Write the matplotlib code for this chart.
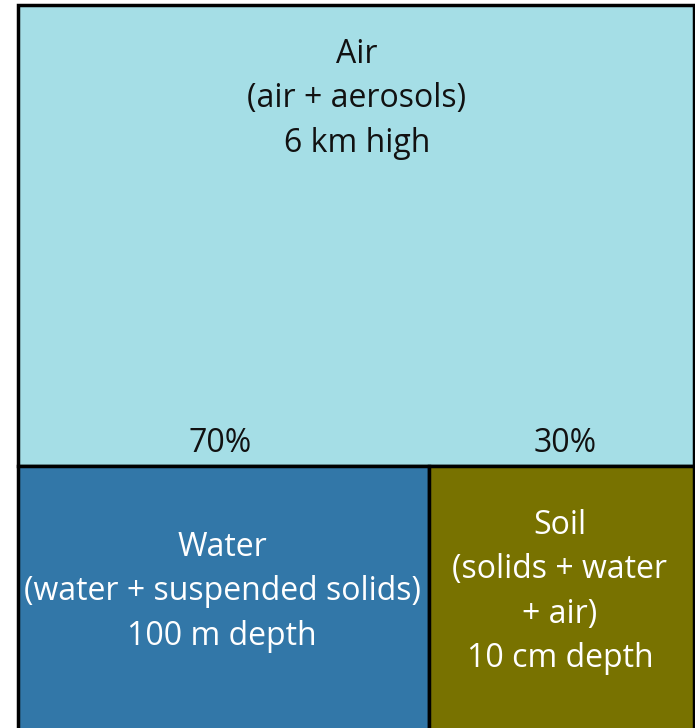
import matplotlib.pyplot as plt
from matplotlib.patches import Rectangle

plt.rcParams['font.family'] = ['Open Sans', 'DejaVu Sans']

# compartimentos
nombres = ["Air\n(air + aerosols)\n6 km high",
           "Water\n(water + suspended solids)\n100 m depth",
           "Soil\n(solids + water\n+ air)\n10 cm depth"]
porcentajes = ["70%", "30%"]
colores = ["#a5dee6", "#3277a8", "#787200"]
colores_texto = ["#111111", "white", "white"]

# Layout en pixeles (x0, y0, x1, y1)
W, H = 695, 728
cajas = [(18, 5, 694, 466), (18, 466, 429, 740), (429, 466, 694, 740)]
centros_texto = [(357, 99), (222, 592), (560, 592)]
pos_pct = [(220, 444), (565, 444)]

fig = plt.figure(figsize=(W / 100, H / 100), dpi=100)
ax = fig.add_axes([0, 0, 1, 1])
ax.set_xlim(0, W)
ax.set_ylim(H, 0)
ax.axis('off')

for (x0, y0, x1, y1), c in zip(cajas, colores):
    ax.add_patch(Rectangle((x0, y0), x1 - x0, y1 - y0, facecolor=c,
                           edgecolor='black', linewidth=2.5))

for txt, (cx, cy), tc in zip(nombres, centros_texto, colores_texto):
    ax.text(cx, cy, txt, ha='center', va='center', fontsize=23,
            color=tc, linespacing=1.45)

for txt, (px, py) in zip(porcentajes, pos_pct):
    ax.text(px, py, txt, ha='center', va='center', fontsize=23, color='#111111')

fig.savefig("out.png", dpi=100)
